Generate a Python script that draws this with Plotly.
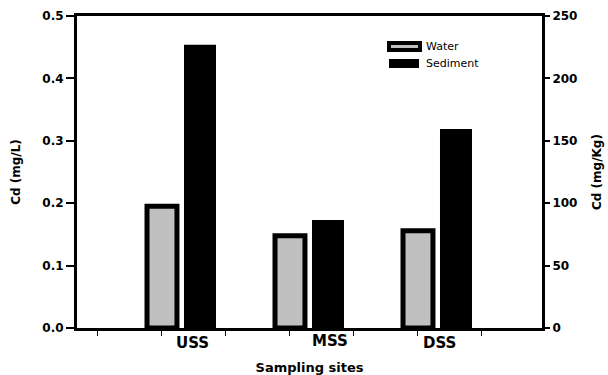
import plotly.graph_objects as go

# Cd concentrations at the three sampling sites
sites = ["USS", "MSS", "DSS"]
water_mg_L = [0.195, 0.148, 0.156]
sediment_mg_kg = [227, 86.5, 159.5]
left_ticks = [0.0, 0.1, 0.2, 0.3, 0.4, 0.5]
right_ticks = [0, 50, 100, 150, 200, 250]

# layout geometry (pixels)
W, H = 608, 375
L, R, T, B = 77, 66, 16, 47
PW, PH = W - L - R, H - T - B
FONT = "DejaVu Sans"

pos = list(range(1, len(sites) + 1))
x_range = [0.336, 3.969]


def px_x(p):
    return (p - L) / PW


def px_y(p):
    return (H - B - p) / PH


fig = go.Figure()

fig.add_trace(go.Bar(
    name="Water", x=pos, y=water_mg_L,
    width=0.234, offset=-0.117,
    marker=dict(color="#c0c0c0", line=dict(color="black", width=5)),
    yaxis="y", showlegend=False,
))
fig.add_trace(go.Bar(
    name="Sediment", x=pos, y=sediment_mg_kg,
    width=0.25, offset=0.172,
    marker=dict(color="black", line=dict(width=0)),
    yaxis="y2", showlegend=False,
))

axis_common = dict(
    showgrid=False, zeroline=False, showline=True, linecolor="black",
    linewidth=3, ticks="outside", tickcolor="black",
)

fig.update_layout(
    width=W, height=H,
    margin=dict(l=L, r=R, t=T, b=B, autoexpand=False),
    paper_bgcolor="white", plot_bgcolor="white",
    barmode="overlay",
    font=dict(family=FONT, color="black"),
    xaxis=dict(
        **axis_common, range=x_range,
        tickvals=[0.5, 1, 1.5, 2, 2.5, 3, 3.5], ticktext=[""] * 7,
        ticklen=5, tickwidth=1, mirror=True,
        title=dict(text="<b>Sampling sites</b>", font=dict(size=13, family=FONT),
                   standoff=26),
    ),
    yaxis=dict(
        **axis_common, range=[0, 0.5], tickvals=left_ticks,
        ticktext=[f"<b>{v:.1f}</b>" for v in left_ticks],
        tickfont=dict(size=12, family=FONT), ticklen=8, tickwidth=2,
        title=dict(text="<b>Cd (mg/L)</b>", font=dict(size=12, family=FONT),
                   standoff=20),
    ),
    yaxis2=dict(
        **axis_common, range=[0, 250], overlaying="y", side="right",
        tickvals=right_ticks, ticktext=[f"<b>{v}</b>" for v in right_ticks],
        tickfont=dict(size=12, family=FONT), ticklen=5, tickwidth=2,
        title=dict(text="<b>Cd (mg/Kg)</b>", font=dict(size=12, family=FONT),
                   standoff=17),
    ),
)

# site labels under the axis
label_x = [1.242, 2.313, 3.172]
label_shift = [0, 2, 0]
for name, lx, ls in zip(sites, label_x, label_shift):
    fig.add_annotation(
        x=lx, y=0, xref="x", yref="paper", yanchor="middle",
        yshift=-15 + ls, text=f"<b>{name}</b>", showarrow=False,
        font=dict(size=15, family=FONT, color="black"),
    )

# legend: swatches and labels
fig.add_shape(type="rect", xref="paper", yref="paper",
              x0=px_x(389), x1=px_x(420), y0=px_y(50), y1=px_y(43),
              fillcolor="#c0c0c0", line=dict(color="black", width=4))
fig.add_shape(type="rect", xref="paper", yref="paper",
              x0=px_x(389), x1=px_x(419), y0=px_y(68), y1=px_y(59),
              fillcolor="black", line=dict(width=0))
for txt, ty in [("Water", 47), ("Sediment", 63)]:
    fig.add_annotation(
        x=px_x(424), y=px_y(ty), xref="paper", yref="paper",
        xanchor="left", yanchor="middle", text=txt, showarrow=False,
        font=dict(size=11, family=FONT, color="black"),
    )

fig.write_html("out.html")
